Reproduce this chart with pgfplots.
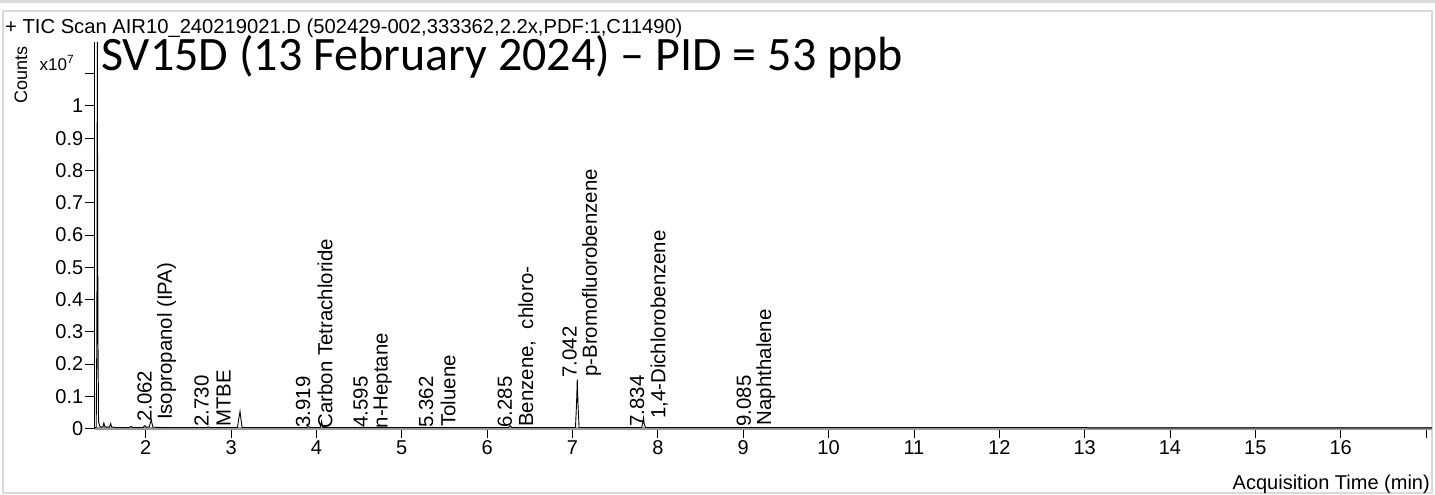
\documentclass[border=0pt]{standalone}
\usepackage{pgfplots}
\pgfplotsset{compat=1.18}
\usepackage{fontspec}
\setmainfont{Liberation Sans}
\newfontfamily\calibri{Carlito}
\definecolor{framegray}{HTML}{D9D9D9}
\begin{document}
\begin{tikzpicture}[x=1pt,y=1pt]
\useasboundingbox (0,0) rectangle (1435,495);
% screenshot frame
\fill[framegray] (0,492) rectangle (1435,495);
\draw[framegray, line width=2pt] (3,2) rectangle (1432,484);
% header texts
\node[anchor=base west, inner sep=0pt, font=\fontsize{20.2}{22}\selectfont] at (5,461) {+ TIC Scan AIR10\_240219021.D (502429-002,333362,2.2x,PDF:1,C11490)};
\node[rotate=90, inner sep=0pt, font=\fontsize{18}{20}\selectfont] at (21,420) {Counts};
\node[inner sep=0pt, font=\fontsize{17}{19}\selectfont] at (57,432) {x10\textsuperscript{7}};
\node[anchor=base east, inner sep=0pt, font=\fontsize{20}{22}\selectfont] at (1430,5) {Acquisition Time (min)};
\begin{axis}[
  at={(94.5pt,66.5pt)}, anchor=south west,
  scale only axis, width=1337.5pt, height=386.5pt,
  xmin=1.40, xmax=17.07, ymin=0, ymax=1.198,
  clip=false,
  axis x line=bottom, axis y line=left,
  x axis line style={-, black!40, line width=3pt},
  y axis line style={-, black, line width=1pt},
  tick align=outside, major tick length=10pt,
  tick style={black, line width=0.8pt},
  xtick={2,3,...,17},
  xticklabels={2,3,4,5,6,7,8,9,10,11,12,13,14,15,16,{}},
  ytick={0,0.1,0.2,0.3,0.4,0.5,0.6,0.7,0.8,0.9,1,1.1},
  yticklabels={0,0.1,0.2,0.3,0.4,0.5,0.6,0.7,0.8,0.9,1,{}},
  /pgf/number format/assume math mode=true,
  tick label style={font=\fontsize{20}{22}\selectfont, black},
  yticklabel style={inner sep=1pt},
  xticklabel style={inner sep=2pt},
  minor tick num=0,
]
\addplot[black, line width=0.9pt] coordinates {
(1.400,0.002) (1.420,0.004) (1.428,0.30) (1.433,1.198) (1.440,0.30) (1.448,0.02)
(1.460,0.008) (1.480,0.004) (1.500,0.006) (1.510,0.017) (1.520,0.006) (1.550,0.004)
(1.575,0.005) (1.590,0.015) (1.600,0.005) (1.650,0.003) (1.800,0.003) (1.830,0.006)
(1.850,0.003) (1.970,0.003) (1.990,0.009) (2.010,0.004) (2.040,0.005) (2.065,0.026)
(2.085,0.004) (2.200,0.003) (2.720,0.003) (2.730,0.005) (2.750,0.003) (3.075,0.003)
(3.090,0.030) (3.105,0.053) (3.115,0.030) (3.130,0.003) (3.880,0.003) (3.905,0.006)
(3.925,0.003) (4.045,0.003) (4.060,0.022) (4.075,0.003) (4.590,0.003) (4.600,0.004)
(4.610,0.003) (5.350,0.003) (5.360,0.004) (5.370,0.003) (6.250,0.003) (6.270,0.009)
(6.290,0.003) (7.035,0.003) (7.048,0.080) (7.056,0.152) (7.064,0.080) (7.077,0.003)
(7.810,0.003) (7.825,0.020) (7.832,0.033) (7.840,0.015) (7.855,0.003) (9.080,0.003)
(9.090,0.004) (9.100,0.003) (13.000,0.003) (13.050,0.002) (17.070,0.002)
};
\begin{scope}[every node/.style={rotate=90, anchor=west, inner sep=0pt, font=\fontsize{20.4}{22}\selectfont}]
\node[yshift=6.5pt] at (axis cs:2.062,0.020) {2.062};
\node[yshift=-15.5pt] at (axis cs:2.062,0.026) {Isopropanol (IPA)};
\node[yshift=6.5pt] at (axis cs:2.730,0.005) {2.730};
\node[yshift=-15.5pt] at (axis cs:2.730,0.005) {MTBE};
\node[yshift=6.5pt] at (axis cs:3.919,0.002) {3.919};
\node[yshift=-15.5pt] at (axis cs:3.919,0.000) {Carbon Tetrachloride};
\node[yshift=6.5pt] at (axis cs:4.595,0.002) {4.595};
\node[yshift=-15.5pt] at (axis cs:4.595,0.000) {n-Heptane};
\node[yshift=6.5pt] at (axis cs:5.362,0.002) {5.362};
\node[yshift=-15.5pt] at (axis cs:5.362,0.005) {Toluene};
\node[yshift=6.5pt] at (axis cs:6.285,0.002) {6.285};
\node[yshift=-15.5pt] at (axis cs:6.285,0.005) {Benzene,\ \ chloro-};
\node[yshift=6.5pt] at (axis cs:7.042,0.157) {7.042};
\node[yshift=-15.5pt] at (axis cs:7.042,0.160) {p-Bromofluorobenzene};
\node[yshift=6.5pt] at (axis cs:7.834,0.005) {7.834};
\node[yshift=-15.5pt] at (axis cs:7.834,0.030) {1,4-Dichlorobenzene};
\node[yshift=6.5pt] at (axis cs:9.085,0.005) {9.085};
\node[yshift=-15.5pt] at (axis cs:9.085,0.010) {Naphthalene};
\end{scope}
\end{axis}
\node[anchor=base west, inner sep=0pt, font=\calibri\fontsize{48}{50}\selectfont] at (101,424) {SV15D (13 February 2024) – PID = 53 ppb};
\end{tikzpicture}
\end{document}
